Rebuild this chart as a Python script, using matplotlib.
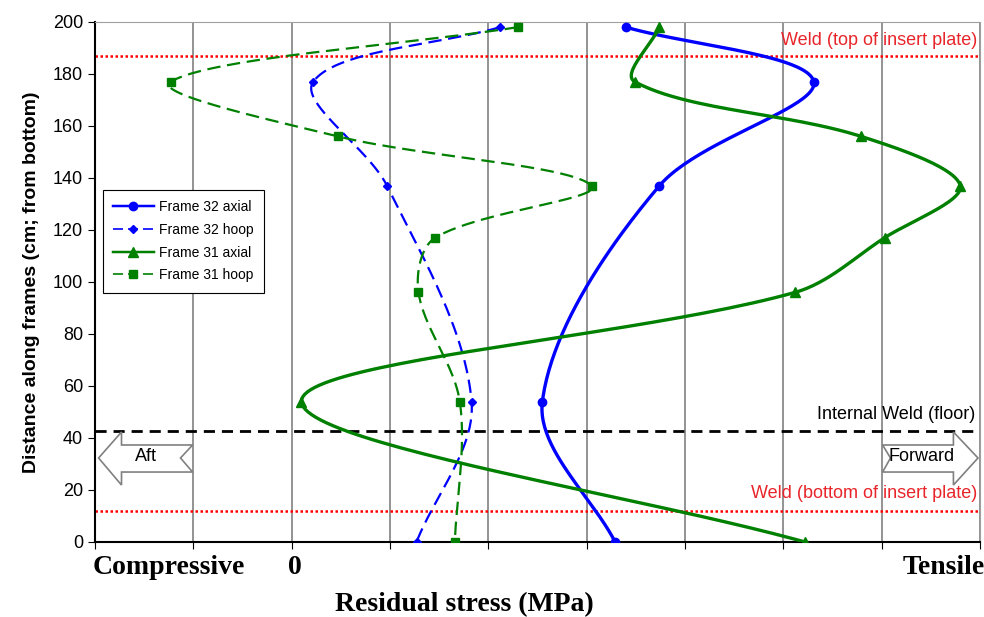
import numpy as np
import matplotlib.pyplot as plt
from matplotlib.patches import Polygon

# values (x in grid units, 0 = zero stress)
dist_f32_axial = [198, 177, 137, 54, 0]
stress_f32_axial = [3.40, 5.31, 3.74, 2.55, 3.29]

dist_f32_hoop = [198, 177, 137, 54, 0]
stress_f32_hoop = [2.12, 0.22, 0.97, 1.83, 1.27]

dist_f31_axial = [198, 177, 156, 137, 117, 96, 54, 0]
stress_f31_axial = [3.74, 3.49, 5.79, 6.80, 6.03, 5.12, 0.10, 5.22]

dist_f31_hoop = [198, 177, 156, 137, 117, 96, 54, 0]
stress_f31_hoop = [2.30, -1.23, 0.47, 3.05, 1.46, 1.29, 1.71, 1.66]

weld_top = 187
weld_floor = 42.5
weld_bottom = 12

SX, SY = 98.3, 2.6  # pixel scale per unit, used for smoothing like Excel


def smooth(xs, ys, n=50):
    # bezier smoothing in screen-like space, tangents weighted by segment length
    p = np.column_stack([np.array(xs) * SX, np.array(ys) * SY])
    p = np.vstack([p[0], p, p[-1]])
    out = []
    for i in range(1, len(p) - 2):
        p0, p1, p2, p3 = p[i - 1], p[i], p[i + 1], p[i + 2]
        d01 = np.linalg.norm(p1 - p0)
        d12 = np.linalg.norm(p2 - p1)
        d23 = np.linalg.norm(p3 - p2)
        t1 = (p2 - p0) * d12 / (d01 + d12) / 3 if d01 + d12 > 0 else 0
        t2 = (p3 - p1) * d12 / (d12 + d23) / 3 if d12 + d23 > 0 else 0
        b1 = p1 + t1
        b2 = p2 - t2
        t = np.linspace(0, 1, n)[:, None]
        seg = ((1 - t) ** 3 * p1 + 3 * (1 - t) ** 2 * t * b1
               + 3 * (1 - t) * t ** 2 * b2 + t ** 3 * p2)
        out.append(seg if i == 1 else seg[1:])
    out = np.vstack(out)
    return out[:, 0] / SX, out[:, 1] / SY


plt.rcParams["font.family"] = ["Liberation Sans", "DejaVu Sans"]

fig = plt.figure(figsize=(9.84, 6.17), dpi=100)
ax = fig.add_axes([0.0965, 0.1216, 0.8994, 0.8428])

blue = "#0000FF"
green = "#008000"

series = [
    (stress_f32_axial, dist_f32_axial, blue, "-", 2.4, "o", 6, "Frame 32 axial"),
    (stress_f32_hoop, dist_f32_hoop, blue, (0, (6, 3)), 1.6, "D", 4.5, "Frame 32 hoop"),
    (stress_f31_axial, dist_f31_axial, green, "-", 2.4, "^", 6.5, "Frame 31 axial"),
    (stress_f31_hoop, dist_f31_hoop, green, (0, (6, 3)), 1.6, "s", 6, "Frame 31 hoop"),
]

for xs, ys, color, ls, lw, mk, ms, label in series:
    sx, sy = smooth(xs, ys)
    ax.plot(sx, sy, color=color, linestyle=ls, linewidth=lw, zorder=3)
    ax.plot(xs, ys, linestyle="none", marker=mk, markersize=ms, color=color, zorder=4)
    ax.plot([], [], color=color, linestyle=ls, linewidth=lw * 0.75,
            marker=mk, markersize=ms, label=label)

ax.axhline(weld_top, color="#FF0000", linestyle=(0, (1, 1)), linewidth=1.8, zorder=2)
ax.axhline(weld_bottom, color="#FF0000", linestyle=(0, (1, 1)), linewidth=1.8, zorder=2)
ax.axhline(weld_floor, color="black", linestyle=(0, (4, 2.5)), linewidth=2.0, zorder=2)

ax.text(6.97, 193, "Weld (top of insert plate)", color="#E8252A", fontsize=13,
        ha="right", va="center")
ax.text(6.95, 49, "Internal Weld (floor)", color="black", fontsize=13,
        ha="right", va="center")
ax.text(6.97, 18.5, "Weld (bottom of insert plate)", color="#E8252A", fontsize=13,
        ha="right", va="center")

# direction arrows
aft = [(-1.963, 32.3), (-1.73, 42.3), (-1.73, 37.3), (-1.007, 37.3), (-1.13, 32.3),
       (-1.007, 26.9), (-1.73, 26.9), (-1.73, 21.9)]
fwd = [(6.98, 32.3), (6.73, 42.3), (6.73, 37.3), (6.01, 37.3), (6.09, 32.3),
       (6.01, 26.9), (6.73, 26.9), (6.73, 21.9)]
for pts in (aft, fwd):
    ax.add_patch(Polygon(pts, closed=True, facecolor="white", edgecolor="#808080",
                         linewidth=1.2, zorder=5))
ax.text(-1.48, 33, "Aft", fontsize=13, ha="center", va="center", zorder=6)
ax.text(6.41, 33, "Forward", fontsize=13, ha="center", va="center", zorder=6)

ax.set_xlim(-2, 7)
ax.set_ylim(0, 200)
ax.set_xticks(np.arange(-2, 8, 1))
ax.set_xticklabels([])
ax.set_yticks(np.arange(0, 201, 20))
ax.tick_params(axis="y", labelsize=13, direction="out", length=5)
ax.tick_params(axis="x", direction="out", length=5)
ax.grid(axis="x", color="#808080", linewidth=1.2)
for side in ("top", "right"):
    ax.spines[side].set_color("#A0A0A0")
ax.spines["left"].set_linewidth(1.5)
ax.spines["bottom"].set_linewidth(1.5)

ax.set_ylabel("Distance along frames (cm; from bottom)", fontsize=14,
              fontweight="bold", labelpad=9)

serif = {"family": "Liberation Serif", "fontweight": "bold", "fontsize": 20}
trans = ax.get_xaxis_transform()
ax.text(-1.25, -0.05, "Compressive", transform=trans, ha="center", va="center", **serif)
ax.text(0.03, -0.05, "0", transform=trans, ha="center", va="center", **serif)
ax.text(7.05, -0.05, "Tensile", transform=trans, ha="right", va="center", **serif)
fig.text(464 / 984, 1 - 605 / 617, "Residual stress (MPa)", ha="center", va="center", **serif)

leg = ax.legend(loc="upper left", bbox_to_anchor=(0.009, 0.677), borderaxespad=0,
                fontsize=10, fancybox=False, edgecolor="black", framealpha=1,
                handlelength=2.9, handletextpad=0.4, labelspacing=0.62, borderpad=0.75)
leg.get_frame().set_linewidth(0.8)

fig.savefig("out.png", dpi=100)
